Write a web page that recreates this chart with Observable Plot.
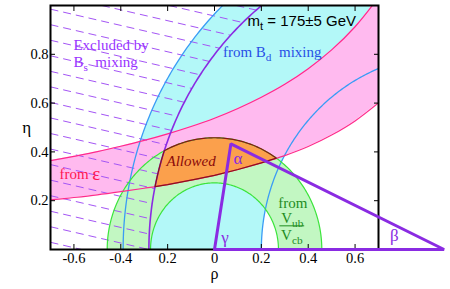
<!DOCTYPE html>
<html><head><meta charset="utf-8">
<script src="https://cdn.jsdelivr.net/npm/d3@7"></script>
<script src="https://cdn.jsdelivr.net/npm/@observablehq/plot@0.6"></script>
<style>body{margin:0;background:#fff;} svg{display:block}</style>
</head><body><div id="chart"></div>
<script>
// ---------- data ----------
const xTicks = [-0.6, -0.4, -0.2, 0, 0.2, 0.4, 0.6];
const xTickLabels = ["-0.6", "-0.4", "0.2", "0", "0.2", "0.4", "0.6"];
const yTicks = [0.2, 0.4, 0.6, 0.8];
const yTickLabels = ["0.2", "0.4", "0.6", "0.8"];

// epsilon band boundaries (rho, eta)
const epsRho   = [-0.7, -0.6, -0.5, -0.4, -0.3, -0.2, -0.1, 0.0, 0.1, 0.2, 0.3, 0.4, 0.5, 0.6, 0.7];
const epsLower = [0.203, 0.213, 0.224, 0.237, 0.251, 0.266, 0.284, 0.304, 0.328, 0.355, 0.385, 0.422, 0.469, 0.527, 0.601];
const epsUpper = [0.364, 0.382, 0.401, 0.423, 0.447, 0.474, 0.504, 0.538, 0.578, 0.624, 0.677, 0.741, 0.818, 0.913, 1.033];

// circular constraints
const bdCenter = [1, 0];  const bdRadii = [0.80, 1.39];   // from B_d mixing
const bsCenter = [1, 0];  const bsRadius = 1.28;          // B_s mixing limit
const vubCenter = [0, 0]; const vubRadii = [0.273, 0.458]; // from Vub/Vcb

// unitarity triangle vertices
const triRho = [0, 0.07, 0.98];
const triEta = [0, 0.433, 0];

// ---------- geometry helpers ----------
function arc(c, r, a0, a1, n = 160) {
  const pts = [];
  for (let i = 0; i <= n; i++) { const a = a0 + (a1 - a0) * i / n; pts.push([c[0] + r * Math.cos(a), c[1] + r * Math.sin(a)]); }
  return pts;
}
function lowerAt(r) {
  for (let i = 0; i < epsRho.length - 1; i++) {
    if (r >= epsRho[i] && r <= epsRho[i + 1]) {
      const t = (r - epsRho[i]) / (epsRho[i + 1] - epsRho[i]);
      return epsLower[i] + t * (epsLower[i + 1] - epsLower[i]);
    }
  }
  return NaN;
}
function bisect(f, a, b) {
  let fa = f(a);
  for (let i = 0; i < 60; i++) { const m = (a + b) / 2, fm = f(m); if ((fm > 0) === (fa > 0)) { a = m; fa = fm; } else b = m; }
  return (a + b) / 2;
}
const PI = Math.PI;

const bdPoly = [...arc(bdCenter, bdRadii[1], PI, PI / 2), ...arc(bdCenter, bdRadii[0], PI / 2, PI)];
const vubPoly = [...arc(vubCenter, vubRadii[1], 0, PI), ...arc(vubCenter, vubRadii[0], PI, 0)];
const epsBand = epsRho.map((r, i) => ({r, lo: epsLower[i], hi: epsUpper[i]}));

// allowed region
const rOut = vubRadii[1];
const llR = bisect(r => Math.hypot(r - bsCenter[0], lowerAt(r)) - bsRadius, -0.5, 0);
const rrR = bisect(r => Math.hypot(r, lowerAt(r)) - rOut, 0, 0.45);
const ulR = (1 + rOut * rOut - bsRadius * bsRadius) / 2;
const ulE = Math.sqrt(rOut * rOut - ulR * ulR);
const allowed = [
  [llR, lowerAt(llR)],
  ...epsRho.map((r, i) => [r, epsLower[i]]).filter(p => p[0] > llR && p[0] < rrR),
  [rrR, lowerAt(rrR)],
  ...arc(vubCenter, rOut, Math.atan2(lowerAt(rrR), rrR), Math.atan2(ulE, ulR), 60),
  ...arc(bsCenter, bsRadius, Math.atan2(ulE, ulR - 1), Math.atan2(lowerAt(llR), llR - 1), 30)
];
allowed.push(allowed[0]);

// hatch of the excluded region (left of the B_s arc)
const hatchSlope = -0.222, hatchStep = 0.0637;
const hatch = [];
for (let k = -20; k <= 20; k++) {
  const c = 0.985 - k * hatchStep;
  if (c < 0) continue;
  let x1 = -0.7, y1 = c;
  if (c > 1) { x1 = -0.7 + (1 - c) / hatchSlope; y1 = 1; }
  if (x1 > 0.7) continue;
  const yAt = x => c + hatchSlope * (x + 0.7);
  const f = x => Math.hypot(x - bsCenter[0], yAt(x)) - bsRadius;
  if (f(x1) <= 0) continue;
  const xb = Math.min(-0.7 - c / hatchSlope, 0.7);
  let x2 = xb;
  const n = 400;
  for (let i = 1; i <= n; i++) {
    const x = x1 + (xb - x1) * i / n;
    if (f(x) <= 0) { x2 = bisect(f, x1 + (xb - x1) * (i - 1) / n, x); break; }
  }
  hatch.push({x1, y1, x2, y2: yAt(x2)});
}

const XY = {x: d => d[0], y: d => d[1]};
const purple = "#8a2be2";
const serif = "'Liberation Serif', 'Times New Roman', serif";
const sans = "'Liberation Sans', Arial, sans-serif";
const T = (t, x, y, o) => Plot.text([{t, x, y}], {x: "x", y: "y", text: "t", fontFamily: serif, fontSize: 15, ...o});

const xLab = new Map(xTicks.map((v, i) => [v, xTickLabels[i]]));
const yLab = new Map(yTicks.map((v, i) => [v, yTickLabels[i]]));

const chart = Plot.plot({
  width: 450, height: 289,
  marginLeft: 50, marginRight: 72, marginTop: 5, marginBottom: 40,
  x: {domain: [-0.7, 0.7], axis: null},
  y: {domain: [0, 1], axis: null},
  style: {fontFamily: serif, fontSize: "14px", background: "white", overflow: "visible"},
  marks: [
    Plot.line(bdPoly, {...XY, fill: "#b3f8f8", stroke: "none", clip: true}),
    Plot.areaY(epsBand, {x: "r", y1: "lo", y2: "hi", fill: "#ffbaef", curve: "catmull-rom", clip: true}),
    Plot.line(vubPoly, {...XY, fill: "#c2f7c2", stroke: "none", clip: true}),
    Plot.line(allowed, {...XY, fill: "#fba04c", stroke: "none"}),
    Plot.link(hatch, {x1: "x1", y1: "y1", x2: "x2", y2: "y2", stroke: "#a455f5", strokeWidth: 1, strokeDasharray: "8,5", clip: true}),
    // boundary lines
    Plot.line(arc(bdCenter, bdRadii[1], PI / 2, PI), {...XY, stroke: "#3a9cf5", strokeWidth: 1.3, clip: true}),
    Plot.line(arc(bdCenter, bdRadii[0], PI / 2, PI), {...XY, stroke: "#3a9cf5", strokeWidth: 1.3, clip: true}),
    Plot.line(arc(vubCenter, vubRadii[1], 0, PI), {...XY, stroke: "#3ce43c", strokeWidth: 1.2}),
    Plot.line(arc(vubCenter, vubRadii[0], 0, PI), {...XY, stroke: "#3ce43c", strokeWidth: 1.2}),
    Plot.line(epsBand, {x: "r", y: "lo", stroke: "#ff2a8c", strokeWidth: 1.2, curve: "catmull-rom", clip: true}),
    Plot.line(epsBand, {x: "r", y: "hi", stroke: "#ff2a8c", strokeWidth: 1.2, curve: "catmull-rom", clip: true}),
    Plot.line(arc(bsCenter, bsRadius, PI / 2, PI), {...XY, stroke: purple, strokeWidth: 1.6, clip: true}),
    Plot.line(allowed, {...XY, stroke: "#8b1414", strokeWidth: 1.2}),
    // frame & axes
    Plot.frame({stroke: "black", strokeWidth: 2}),
    Plot.axisX(xTicks, {anchor: "bottom", tickSize: -5, tickPadding: 8, tickFormat: d => xLab.get(d), label: null, fontSize: 14.5}),
    Plot.axisX(xTicks, {anchor: "top", tickSize: -5, tickFormat: () => "", label: null}),
    Plot.axisY(yTicks, {anchor: "left", tickSize: -5, tickPadding: 7, tickFormat: d => yLab.get(d), label: null, fontSize: 14.5}),
    Plot.axisY(yTicks, {anchor: "right", tickSize: -5, tickFormat: () => "", label: null}),
    // triangle
    Plot.line([0, 1, 2, 0].map(i => [triRho[i], triEta[i]]), {...XY, stroke: purple, strokeWidth: 3, strokeLinejoin: "miter"}),
    // annotations
    T("Excluded by", -0.602, 0.837, {fill: "#9933ff", textAnchor: "start"}),
    T("B_{s}\u00a0 mixing", -0.602, 0.767, {fill: "#9933ff", textAnchor: "start"}),
    T("from B_{d}\u00a0 mixing", 0.036, 0.808, {fill: "#2850e6", textAnchor: "start"}),
    T("m_{t} = 175±5 GeV", 0.141, 0.935, {fill: "black", textAnchor: "start", fontFamily: sans}),
    T("from", -0.662, 0.307, {fill: "#ff1450", textAnchor: "start", fontSize: 15}),
    T("ε", -0.522, 0.310, {fill: "#ff1450", textAnchor: "start", fontSize: 19}),
    T("Allowed", -0.1, 0.36, {fill: "#8b0a0a", fontStyle: "italic"}),
    T("α", 0.1, 0.372, {fill: purple, fontSize: 17}),
    T("γ", 0.045, 0.048, {fill: purple, fontSize: 17}),
    T("β", 0.768, 0.056, {fill: purple, fontSize: 17}),
    T("from", 0.334, 0.188, {fill: "#1e8c1e"}),
    T("V_{ub}", 0.332, 0.128, {fill: "#1e8c1e"}),
    T("V_{cb}", 0.330, 0.060, {fill: "#1e8c1e"}),
    Plot.ruleY([0.097], {x1: 0.279, x2: 0.385, stroke: "#1e8c1e", strokeWidth: 1}),
    T("ρ", 0, -0.1, {fill: "black", fontSize: 16}),
    T("η", -0.802, 0.5, {fill: "black", fontSize: 17})
  ]
});

// subscripts
chart.querySelectorAll("text").forEach(t => {
  const s = t.textContent;
  if (!s.includes("_{")) return;
  t.textContent = "";
  let sub = false;
  s.split(/(_\{[^}]*\})/).forEach(p => {
    if (!p) return;
    const ts = document.createElementNS("http://www.w3.org/2000/svg", "tspan");
    if (p.startsWith("_{")) {
      ts.textContent = p.slice(2, -1);
      ts.setAttribute("font-size", "75%");
      ts.setAttribute("dy", "4");
      sub = true;
    } else {
      ts.textContent = p;
      if (sub) { ts.setAttribute("dy", "-4"); sub = false; }
    }
    t.appendChild(ts);
  });
});
document.getElementById("chart").appendChild(chart);
</script>
</body></html>
